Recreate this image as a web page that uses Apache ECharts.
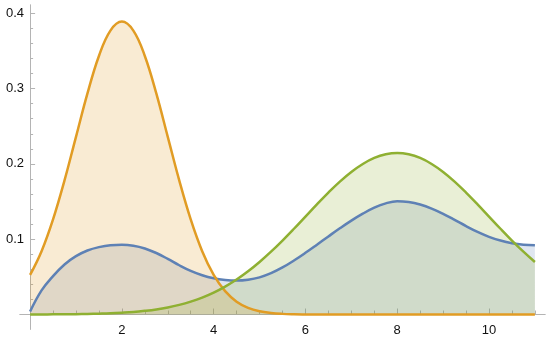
<!DOCTYPE html>
<html>
<head>
<meta charset="utf-8">
<script src="https://cdn.jsdelivr.net/npm/echarts@6/dist/echarts.min.js"></script>
<style>
html,body{margin:0;padding:0;background:#fff;}
#chart{width:550px;height:338px;}
</style>
</head>
<body>
<div id="chart"></div>
<script>
// x positions (step 0.25 from 0 to 11)
var xs = [0,0.25,0.5,0.75,1,1.25,1.5,1.75,2,2.25,2.5,2.75,3,3.25,3.5,3.75,4,4.25,4.5,4.75,5,5.25,5.5,5.75,6,6.25,6.5,6.75,7,7.25,7.5,7.75,8,8.25,8.5,8.75,9,9.25,9.5,9.75,10,10.25,10.5,10.75,11];

var blueVals = [0.004,0.032,0.051,0.0665,0.0775,0.085,0.0895,0.092,0.0925,0.0913,0.0877,0.0817,0.0739,0.0654,0.0579,0.0521,0.0481,0.0459,0.0451,0.0462,0.0493,0.0549,0.0625,0.0717,0.0819,0.0927,0.1037,0.1145,0.1247,0.1339,0.1419,0.1476,0.1504,0.1493,0.146,0.1407,0.1337,0.1257,0.1174,0.1097,0.1032,0.0982,0.0947,0.0927,0.092];

var orangeVals = [0.0526,0.0841,0.1263,0.1781,0.2359,0.2936,0.3433,0.377,0.389,0.377,0.3433,0.2936,0.2359,0.1781,0.1263,0.0841,0.0526,0.031,0.0171,0.0089,0.0043,0.002,0.00085,0.00035,0.00013,0,0,0,0,0,0,0,0,0,0,0,0,0,0,0,0,0,0,0,0];

var greenVals = [0.0001,0.0001,0.0002,0.0003,0.0005,0.0007,0.0011,0.0016,0.0024,0.0034,0.0049,0.0068,0.0094,0.0128,0.0171,0.0224,0.029,0.037,0.0464,0.0573,0.0697,0.0834,0.0982,0.1139,0.1301,0.1463,0.1619,0.1765,0.1893,0.1999,0.2079,0.2128,0.2145,0.2128,0.2079,0.1999,0.1893,0.1765,0.1619,0.1463,0.1301,0.1139,0.0982,0.0834,0.0697];

var xMajorTicks = [2,4,6,8,10];
var xMinorTicks = [0.5,1,1.5,2.5,3,3.5,4.5,5,5.5,6.5,7,7.5,8.5,9,9.5,10.5,11];
var yMajorTicks = [0.1,0.2,0.3,0.4];
var yMinorTicks = [0.02,0.04,0.06,0.08,0.12,0.14,0.16,0.18,0.22,0.24,0.26,0.28,0.32,0.34,0.36,0.38];

function pairs(vals){ return xs.map(function(x,i){ return [x, vals[i]]; }); }

var axisColor = '#b4b4b4';
var labelFont = {color:'#111111', fontSize:13, fontFamily:'Liberation Sans, Arial, sans-serif'};

var X_MIN = -0.22, X_MAX = 11.22, Y_MIN = -0.0195, Y_MAX = 0.411;
var GRID = {left:20, top:5, width:525, height:324.2};
// shift the axes so they cross at (0,0), as in the reference
var xAxisOffset = -GRID.height * (0 - Y_MIN) / (Y_MAX - Y_MIN);
var yAxisOffset = -GRID.width * (0 - X_MIN) / (X_MAX - X_MIN);

function mkX(ticks, labels, len){
  return {
    type:'value', min:X_MIN, max:X_MAX, position:'bottom', offset:xAxisOffset,
    axisLine:{show:true, onZero:false, lineStyle:{color:axisColor, width:1}},
    axisTick:{show:true, inside:true, length:len, customValues:ticks, lineStyle:{color:axisColor}},
    axisLabel: labels ? Object.assign({show:true, customValues:labels, margin:9}, labelFont) : {show:false},
    splitLine:{show:false}
  };
}
function mkY(ticks, labels, len){
  return {
    type:'value', min:Y_MIN, max:Y_MAX, position:'left', offset:yAxisOffset,
    axisLine:{show:true, onZero:false, lineStyle:{color:axisColor, width:1}},
    axisTick:{show:true, inside:true, length:len, customValues:ticks, lineStyle:{color:axisColor}},
    axisLabel: labels ? Object.assign({show:true, customValues:labels, margin:6, formatter:function(v){return String(Math.round(v*10)/10);}}, labelFont) : {show:false},
    splitLine:{show:false}
  };
}

var colors = {blue:'#5E81B5', orange:'#E19C24', green:'#8FB032'};
function mkSeries(name, vals, color){
  return {
    name:name, type:'line', xAxisIndex:0, yAxisIndex:0,
    data:pairs(vals), smooth:0.4, showSymbol:false, symbol:'none',
    lineStyle:{color:color, width:2.5},
    itemStyle:{color:color},
    areaStyle:{color:color, opacity:0.2, origin:0},
    animation:false, silent:true
  };
}

var chart = echarts.init(document.getElementById('chart'), null, {renderer:'canvas'});
chart.setOption({
  animation:false,
  grid:{left:GRID.left, top:GRID.top, width:GRID.width, height:GRID.height, containLabel:false, outerBoundsMode:'none'},
  xAxis:[mkX(xMajorTicks, xMajorTicks, 6), mkX(xMinorTicks, null, 4)],
  yAxis:[mkY(yMajorTicks, yMajorTicks, 5), mkY(yMinorTicks, null, 3)],
  series:[
    mkSeries('blue', blueVals, colors.blue),
    mkSeries('orange', orangeVals, colors.orange),
    mkSeries('green', greenVals, colors.green)
  ]
});
</script>
</body>
</html>
